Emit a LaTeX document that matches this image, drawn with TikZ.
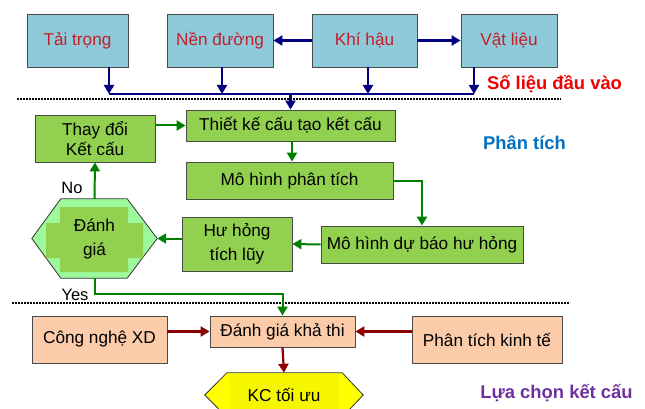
\documentclass[tikz,border=0pt]{standalone}
\usepackage{fontspec}
\setmainfont{Liberation Sans}
\usetikzlibrary{arrows.meta,calc,backgrounds}
\definecolor{boxblue}{HTML}{8FCADA}
\definecolor{topred}{HTML}{C41E28}
\definecolor{navyc}{HTML}{000080}
\definecolor{boxgreen}{HTML}{92D050}
\definecolor{hexlight}{HTML}{9CFA9C}
\definecolor{arrgreen}{HTML}{008000}
\definecolor{peach}{HTML}{FBCBAA}
\definecolor{arrred}{HTML}{8B0000}
\definecolor{lblred}{HTML}{F00000}
\definecolor{lblblue}{HTML}{0070C0}
\definecolor{lblpurple}{HTML}{7030A0}
\definecolor{kcyellow}{HTML}{FFFF00}
\definecolor{kcinner}{HTML}{F6F600}
\definecolor{edgegray}{HTML}{4A4A4A}
\tikzset{
  base/.style={rectangle, inner sep=0pt, align=center, font=\fontsize{17.2}{20}\selectfont},
  topbox/.style={base, draw=edgegray, line width=0.8pt, fill=boxblue, text=topred, minimum height=53pt},
  greenbox/.style={base, draw=edgegray, line width=0.8pt, fill=boxgreen},
  peachbox/.style={base, draw=edgegray, line width=0.8pt, fill=peach},
  plaintext/.style={base, font=\fontsize{16.5}{22}\selectfont},
  lbl/.style={inner sep=0pt, font=\bfseries\fontsize{18.4}{22}\selectfont},
  navyline/.style={draw=navyc, line width=2.4pt},
  navyarr/.style={navyline, -{Triangle[length=9pt,width=10pt]}},
  greenarr/.style={draw=arrgreen, line width=2pt, -{Triangle[length=9pt,width=10pt]}},
  redarr/.style={draw=arrred, line width=2.2pt, -{Triangle[length=9pt,width=10pt]}},
  dotline/.style={draw=black, line width=1.8pt, dash pattern=on 1.8pt off 1.2pt}
}
\begin{document}
\begin{tikzpicture}[x=1pt,y=-1pt]
\useasboundingbox (0,0) rectangle (645,409);

% ---- input data ----
\node[topbox, minimum width=101pt] (tt) at (77.5,40.5) {Tải trọng};
\node[topbox, minimum width=106pt] (nd) at (220,40.5) {Nền đường};
\node[topbox, minimum width=105pt] (kh) at (364.5,40.5) {Khí hậu};
\node[topbox, minimum width=96pt] (vl) at (509,40.5) {Vật liệu};

\draw[navyarr] (kh.west) -- (nd.east);
\draw[navyarr] (kh.east) -- (vl.west);

\coordinate (busL) at (109,94);
\coordinate (busR) at (474,94);
\draw[navyline] (busL) -- (busR);
\draw[navyarr] (tt.south -| busL) -- (busL);
\draw[navyarr] ([xshift=2pt]nd.south) -- ([xshift=2pt]nd.south |- busL);
\draw[navyarr] ([xshift=3.5pt]kh.south) -- ([xshift=3.5pt]kh.south |- busL);
\draw[navyarr] (vl.south -| busR) -- (busR);

\node[lbl, text=lblred] (sl) at (554.5,84) {Số liệu đầu vào};

\coordinate (d1a) at (17,99);
\coordinate (d1b) at (561,99);
\draw[dotline] (d1a) -- (d1b);

% ---- analysis ----
\node[greenbox, minimum width=209pt, minimum height=31pt] (tk) at (290.5,125.5) {Thiết kế cấu tạo kết cấu};
\node[greenbox, minimum width=207pt, minimum height=37pt] (mp) at (289.5,180.5) {Mô hình phân tích};
\node[greenbox, minimum width=120pt, minimum height=47pt, font=\fontsize{17.2}{20}\selectfont] (td) at (95,138.5) {Thay đổi\\Kết cấu};
\node[greenbox, minimum width=202pt, minimum height=37pt] (md) at (422,244.5) {Mô hình dự báo hư hỏng};
\node[greenbox, minimum width=110pt, minimum height=54pt, font=\fontsize{17.2}{24}\selectfont] (hh) at (237,244) {Hư hỏng\\tích lũy};

\node[base, minimum width=125pt, minimum height=79pt, font=\fontsize{17.2}{24}\selectfont] (dg) at (94.5,238.5) {Đánh\\giá};
\begin{scope}[on background layer]
  \draw[fill=hexlight, draw=black!80, line width=0.8pt]
    (dg.west) -- ([xshift=29pt]dg.north west) -- ([xshift=-30pt]dg.north east)
    -- (dg.east) -- ([xshift=-30pt]dg.south east) -- ([xshift=29pt]dg.south west) -- cycle;
  \begin{scope}[shift={(dg.center)}]
    \fill[boxgreen] (-34.5,-31.5) -- (33.5,-31.5) -- (33.5,-15.5) -- (48.5,-15.5) -- (48.5,19.5)
      -- (33.5,19.5) -- (33.5,33.5) -- (-34.5,33.5) -- (-34.5,19.5) -- (-48.5,19.5)
      -- (-48.5,-15.5) -- (-34.5,-15.5) -- cycle;
  \end{scope}
\end{scope}

\node[lbl, text=lblblue] (pt) at (524.5,143) {Phân tích};

\draw[navyarr] (tk.north |- busL) -- (tk.north);
\draw[greenarr] (td.east |- tk.west) -- (tk.west);
\draw[greenarr] ([xshift=1.5pt]tk.south) -- ([xshift=1.5pt]tk.south |- mp.north);
\draw[greenarr] (mp.east) -| (md.north);
\draw[greenarr] (md.west) -- (hh.east);
\draw[greenarr] (hh.west |- dg.east) -- (dg.east);
\draw[greenarr] (dg.north) -- (td.south);
\node[plaintext] (no) at (72,188) {No};

% ---- selection ----
\coordinate (d2a) at (12,303);
\coordinate (d2b) at (570,303);
\draw[dotline] (d2a) -- (d2b);

\node[peachbox, minimum width=135pt, minimum height=47pt] (cn) at (99.5,339.5) {Công nghệ XD};
\node[peachbox, minimum width=145pt, minimum height=31pt] (eg) at (282.5,331.5) {Đánh giá khả thi};
\node[peachbox, minimum width=150pt, minimum height=47pt] (pk) at (487,339.5) {Phân tích kinh tế};

\coordinate (yc) at (0,294);
\draw[greenarr] (dg.south) -- (dg.south |- yc) -| (eg.north);
\node[plaintext] (yes) at (75,295) {Yes};

\draw[redarr] (cn.east |- eg.west) -- (eg.west);
\draw[redarr] (pk.west |- eg.east) -- (eg.east);

\node[base, minimum width=158pt, minimum height=44pt] (kc) at (284,395) {KC tối ưu};
\begin{scope}[on background layer]
  \draw[fill=kcyellow, draw=black!80, line width=0.8pt]
    (kc.west) -- ([xshift=22pt]kc.north west) -- ([xshift=-21pt]kc.north east)
    -- (kc.east) -- ([xshift=-21pt]kc.south east) -- ([xshift=22pt]kc.south west) -- cycle;
  \fill[kcinner] ([xshift=25pt,yshift=-1pt]kc.north west) rectangle ([xshift=-24pt,yshift=1pt]kc.south east);
\end{scope}
\draw[redarr] (eg.south) -- (kc.north);

\node[lbl, text=lblpurple] (lc) at (556.5,393) {Lựa chọn kết cấu};
\end{tikzpicture}
\end{document}
